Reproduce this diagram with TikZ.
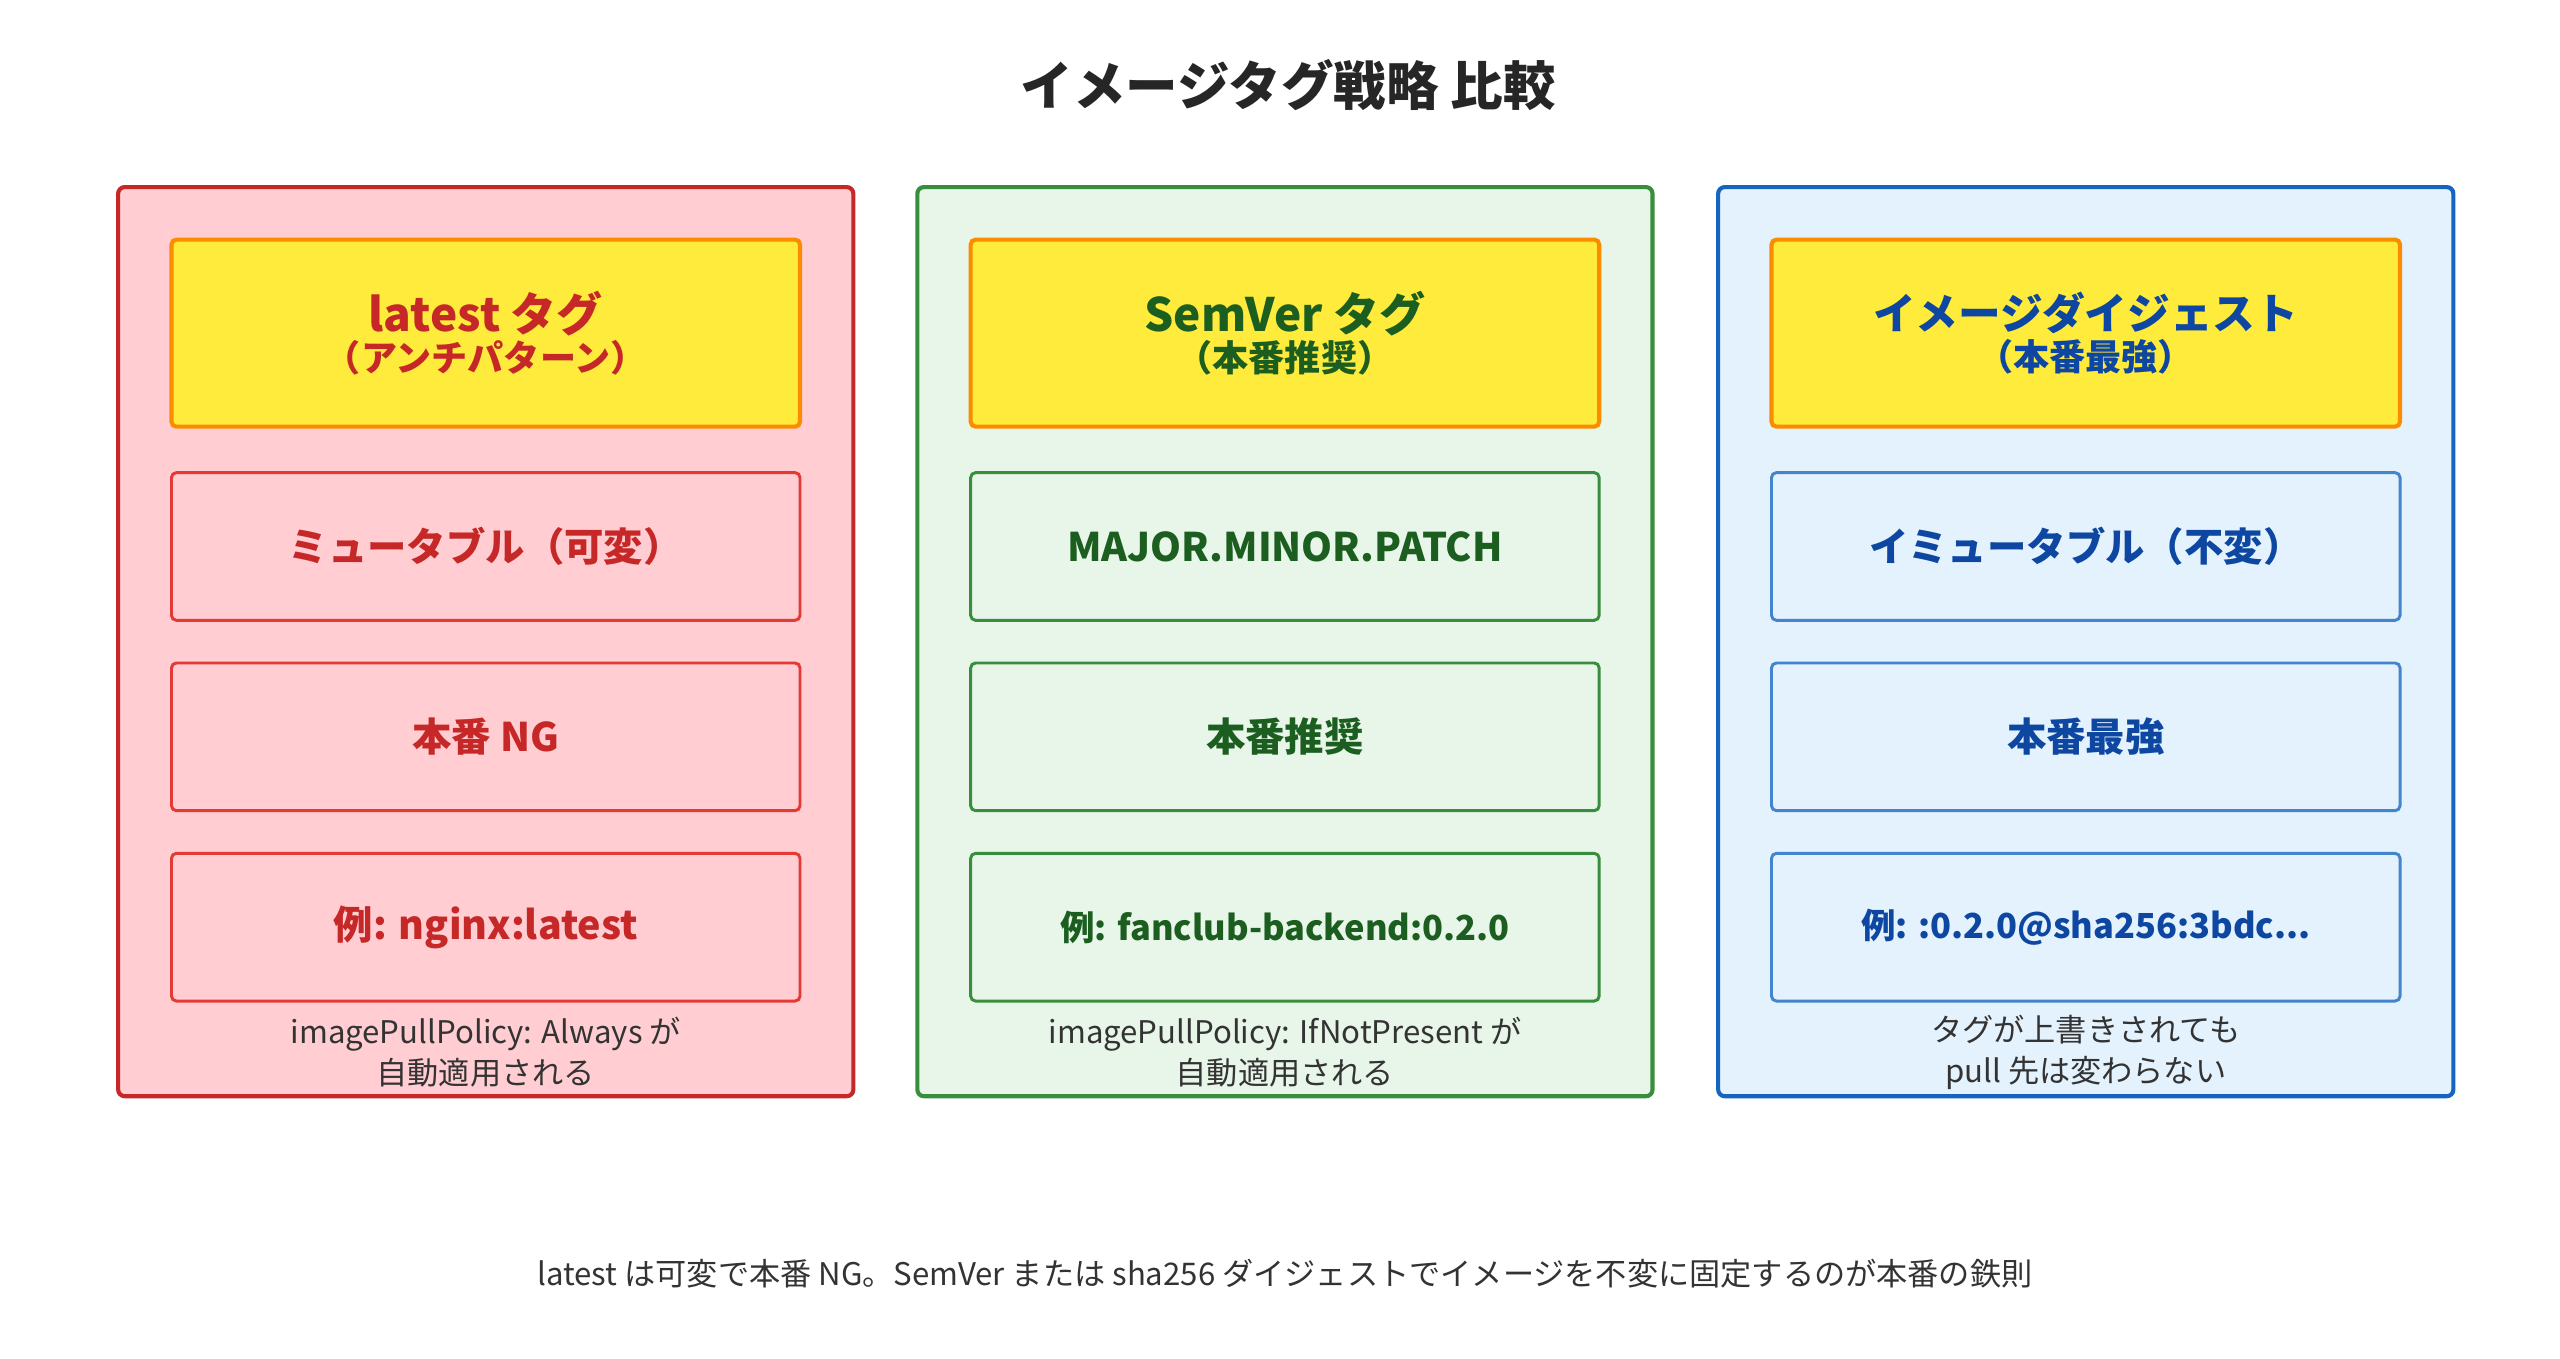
\documentclass[tikz,border=0pt]{standalone}
\usepackage{fontspec}
\setmainfont{Noto Sans CJK JP}
\usetikzlibrary{positioning}
\definecolor{rdk}{HTML}{C62828}\definecolor{rmd}{HTML}{E53935}\definecolor{rbg}{HTML}{FFCDD2}
\definecolor{gdk}{HTML}{1B5E20}\definecolor{gmd}{HTML}{388E3C}\definecolor{gbg}{HTML}{E8F5E9}
\definecolor{bdk}{HTML}{0D47A1}\definecolor{bmd}{HTML}{1565C0}\definecolor{bbg}{HTML}{E3F2FD}
\definecolor{hyel}{HTML}{FFEB3B}\definecolor{hora}{HTML}{FB8C00}
\tikzset{
  panel/.style={draw=#1, line width=2.5pt, rounded corners=4pt, minimum width=448pt, minimum height=554pt},
  head/.style={draw=hora, fill=hyel, line width=2.5pt, rounded corners=3pt, minimum width=383pt, minimum height=114pt, align=center, font=\bfseries, text=#1},
  item/.style={line width=1.8pt, rounded corners=3pt, minimum width=383pt, minimum height=90pt, font=\fontsize{24}{28}\selectfont\bfseries},
  note/.style={font=\fontsize{19}{25}\selectfont, text=black!80, align=center},
}
\begin{document}
\begin{tikzpicture}[x=1pt,y=-1pt]
\useasboundingbox (0,0) rectangle (1560,828);
\node[font=\fontsize{32}{38}\selectfont\bfseries, text=black!85] (title) at (785,52) {イメージタグ戦略 比較};

% latest
\node[panel=rdk, fill=rbg] (pl) at (296,391) {};
\node[head=rdk] (hl) at (296,203) {{\fontsize{28}{34}\selectfont latest タグ}\\[2pt]{\fontsize{22}{26}\selectfont （アンチパターン）}};
\node[item, draw=rmd, text=rdk] (l1) at (296,333) {ミュータブル（可変）};
\node[item, draw=rmd, text=rdk] (l2) at (296,449) {本番 NG};
\node[item, draw=rmd, text=rdk] (l3) at (296,565) {例: nginx:latest};
\node[note] (nl) at (296,641) {imagePullPolicy: Always が\\自動適用される};

% semver
\node[panel=gmd, fill=gbg] (pg) at (783,391) {};
\node[head=gdk] (hg) at (783,203) {{\fontsize{28}{34}\selectfont SemVer タグ}\\[2pt]{\fontsize{22}{26}\selectfont （本番推奨）}};
\node[item, draw=gmd, text=gdk] (g1) at (783,333) {MAJOR.MINOR.PATCH};
\node[item, draw=gmd, text=gdk] (g2) at (783,449) {本番推奨};
\node[item, draw=gmd, text=gdk, font=\fontsize{21}{26}\selectfont\bfseries] (g3) at (783,565) {例: fanclub-backend:0.2.0};
\node[note] (ng) at (783,641) {imagePullPolicy: IfNotPresent が\\自動適用される};

% digest
\node[panel=bmd, fill=bbg] (pb) at (1271,391) {};
\node[head=bdk] (hb) at (1271,203) {{\fontsize{26}{32}\selectfont イメージダイジェスト}\\[2pt]{\fontsize{22}{26}\selectfont （本番最強）}};
\node[item, draw=bmd!80!white, text=bdk] (b1) at (1271,333) {イミュータブル（不変）};
\node[item, draw=bmd!80!white, text=bdk] (b2) at (1271,449) {本番最強};
\node[item, draw=bmd!80!white, text=bdk, font=\fontsize{21}{26}\selectfont\bfseries] (b3) at (1271,565) {例: :0.2.0@sha256:3bdc...};
\node[note] (nb) at (1271,641) {タグが上書きされても\\pull 先は変わらない};

\node[note] (foot) at (783,776) {latest は可変で本番 NG。SemVer または sha256 ダイジェストでイメージを不変に固定するのが本番の鉄則};
\end{tikzpicture}
\end{document}
